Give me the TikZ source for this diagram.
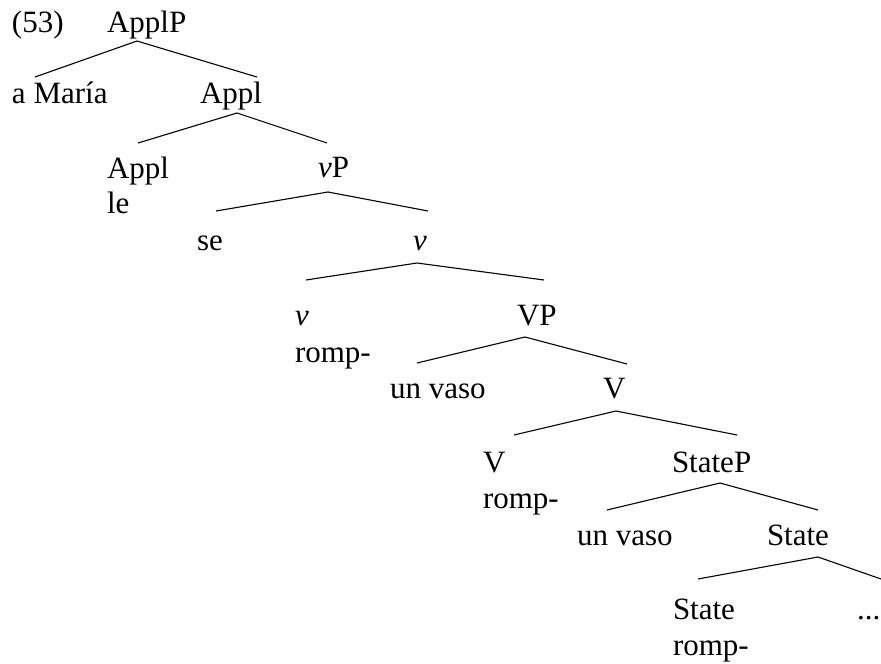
\documentclass[tikz,border=0pt]{standalone}
\usepackage{fontspec}
\setmainfont{Liberation Serif}
\begin{document}
\begin{tikzpicture}[x=1pt,y=-1pt,
  lbl/.style={anchor=base west,inner sep=0pt,outer sep=0pt,font=\fontsize{31}{36}\selectfont},
  branch/.style={line width=1.1pt,line join=miter}]
\useasboundingbox (0,0) rectangle (881,664);
% labels
\node[lbl] (ex) at (12,32) {(53)};
\node[lbl] (applp) at (107,32) {ApplP};
\node[lbl] (maria) at (12,103) {a María};
\node[lbl] (applbar) at (200,103) {Appl};
\node[lbl] (appl) at (107,178) {Appl};
\node[lbl] (le) at (107,213) {le};
\node[lbl] (vp) at (318,177) {\textit{v}P};
\node[lbl] (se) at (197,250) {se};
\node[lbl] (vbar) at (413,250) {\textit{v}};
\node[lbl] (vhead) at (295,325) {\textit{v}};
\node[lbl] (vromp) at (295,362) {romp-};
\node[lbl] (VP) at (517,325) {VP};
\node[lbl] (vaso1) at (390,398) {un vaso};
\node[lbl] (Vbar) at (603,398) {V};
\node[lbl] (Vhead) at (483,472) {V};
\node[lbl] (Vromp) at (483,508) {romp-};
\node[lbl] (statep) at (672,472) {StateP};
\node[lbl] (vaso2) at (577,545) {un vaso};
\node[lbl] (statebar) at (767,545) {State};
\node[lbl] (statehead) at (673,619) {State};
\node[lbl] (sromp) at (673,655) {romp-};
\node[lbl] (dots) at (857,619) {...};
% branch points
\coordinate (a0) at (137,41);  \coordinate (a1) at (35,77);   \coordinate (a2) at (257,77);
\coordinate (b0) at (237,113); \coordinate (b1) at (138,143); \coordinate (b2) at (327,143);
\coordinate (c0) at (328,192); \coordinate (c1) at (216,211); \coordinate (c2) at (428,211);
\coordinate (d0) at (417,263); \coordinate (d1) at (306,280); \coordinate (d2) at (544,280);
\coordinate (e0) at (525,337); \coordinate (e1) at (417,363); \coordinate (e2) at (627,364);
\coordinate (f0) at (616,411); \coordinate (f1) at (514,435); \coordinate (f2) at (737,435);
\coordinate (g0) at (720,483); \coordinate (g1) at (607,510); \coordinate (g2) at (818,510);
\coordinate (h0) at (818,557); \coordinate (h1) at (698,579); \coordinate (h2) at (881,579);
% branches
\foreach \n in {a,b,c,d,e,f,g,h}
  \draw[branch] (\n1) -- (\n0) -- (\n2);
\end{tikzpicture}
\end{document}
